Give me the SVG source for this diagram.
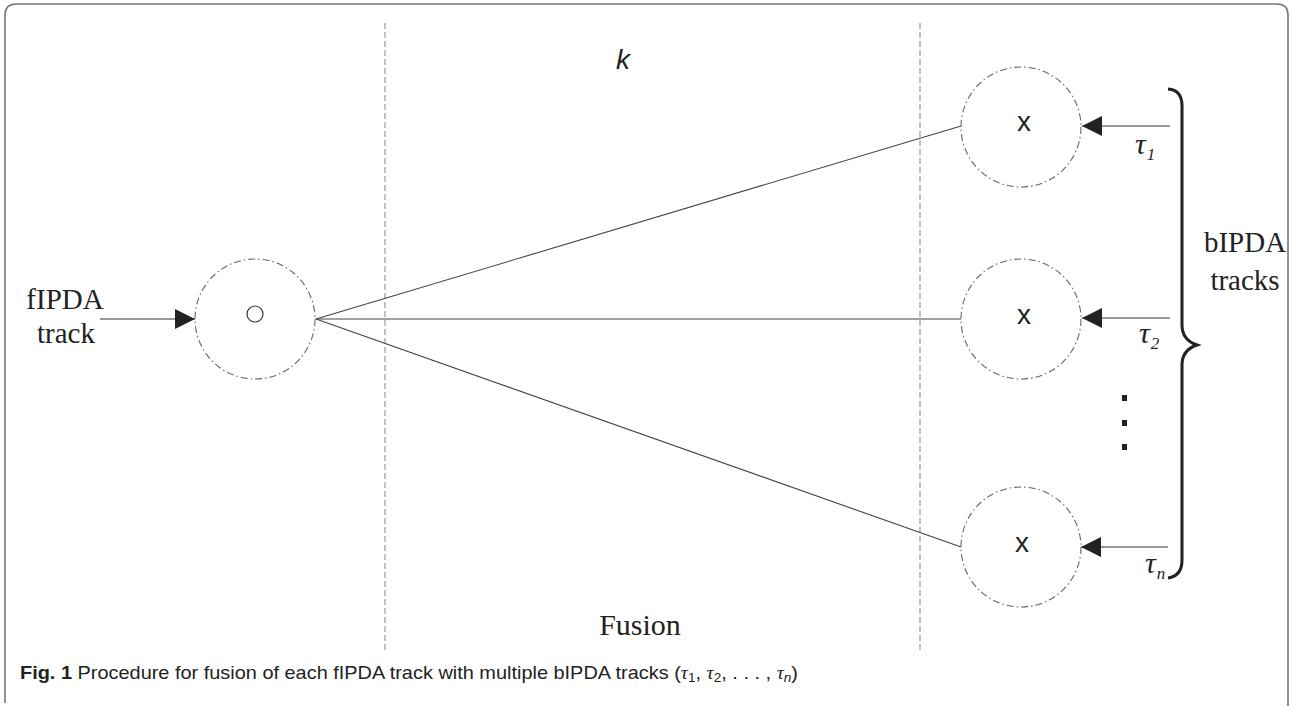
<svg xmlns="http://www.w3.org/2000/svg" width="1291" height="706" viewBox="0 0 1291 706">
<style>
.frame{fill:none;stroke:#777;stroke-width:1.6}
.sep{stroke:#999;stroke-width:1.2;stroke-dasharray:6 3;fill:none}
.node{fill:none;stroke:#666;stroke-width:1.1;stroke-dasharray:7 3 1.5 3}
.edge{stroke:#444;stroke-width:1.1;fill:none}
.arr{stroke:#333;stroke-width:1.2;fill:none;marker-end:url(#ah)}
.serif{font-family:"Liberation Serif","Times New Roman",serif;fill:#222}
.sans{font-family:"Liberation Sans",Arial,sans-serif;fill:#222}
</style>
<defs>
<marker id="ah" viewBox="0 0 20 20" refX="20" refY="10" markerWidth="20" markerHeight="20" markerUnits="userSpaceOnUse" orient="auto">
<path d="M0,0 L20,10 L0,20 Z" fill="#222"/>
</marker>
</defs>
<rect width="1291" height="706" fill="#fff"/>
<path class="frame" d="M5,703 L5,15 Q5,4 16,4 L1277,4 Q1288,4 1288,15 L1288,706"/>
<g id="separators">
<line class="sep" x1="385" y1="23" x2="385" y2="652"/>
<line class="sep" x1="920" y1="23" x2="920" y2="652"/>
</g>
<text class="sans" x="616" y="69" font-size="28" font-style="italic">k</text>
<text class="serif" x="640" y="635" font-size="30" text-anchor="middle">Fusion</text>
<g id="connectors">
<line class="edge" x1="316" y1="319" x2="961" y2="126"/>
<line class="edge" x1="316" y1="319" x2="961" y2="319"/>
<line class="edge" x1="316" y1="319" x2="961" y2="547"/>
<line class="arr" x1="100" y1="319" x2="195" y2="319"/>
<line class="arr" x1="1170" y1="126" x2="1082" y2="126"/>
<line class="arr" x1="1170" y1="318" x2="1082" y2="318"/>
<line class="arr" x1="1168" y1="547" x2="1081" y2="547"/>
</g>
<g id="node-f">
<circle class="node" cx="255" cy="319" r="60"/>
<circle cx="255" cy="314" r="8" fill="none" stroke="#333" stroke-width="1.2"/>
</g>
<g id="node-b1">
<circle class="node" cx="1021" cy="127" r="60"/>
<text class="sans" x="1024" y="131" font-size="28" text-anchor="middle">x</text>
</g>
<g id="node-b2">
<circle class="node" cx="1021" cy="319" r="60"/>
<text class="sans" x="1024" y="324" font-size="28" text-anchor="middle">x</text>
</g>
<g id="node-bn">
<circle class="node" cx="1021" cy="547" r="60"/>
<text class="sans" x="1022" y="552" font-size="28" text-anchor="middle">x</text>
</g>
<g id="label-f">
<text class="serif" x="65" y="309" font-size="29" text-anchor="middle">fIPDA</text>
<text class="serif" x="66" y="343" font-size="29" text-anchor="middle">track</text>
</g>
<g id="labels-tau" class="serif">
<text x="1135" y="154" font-size="30" font-style="italic">τ<tspan font-size="17" dx="1" dy="6">1</tspan></text>
<text x="1139" y="343" font-size="30" font-style="italic">τ<tspan font-size="17" dx="1" dy="6">2</tspan></text>
<text x="1145" y="573" font-size="30" font-style="italic">τ<tspan font-size="17" dx="1" dy="6">n</tspan></text>
</g>
<g id="dots" fill="#222">
<rect x="1122" y="395" width="5" height="6"/>
<rect x="1122" y="420" width="5" height="6"/>
<rect x="1122" y="444" width="5" height="6"/>
</g>
<g id="brace">
<path d="M1168,89 Q1182,90 1182,106 L1182,325 Q1182,340 1197,345 Q1182,350 1182,365 L1182,560 Q1182,576 1168,578" fill="none" stroke="#222" stroke-width="3"/>
<text class="serif" x="1245" y="252" font-size="29" text-anchor="middle">bIPDA</text>
<text class="serif" x="1245" y="290" font-size="29" text-anchor="middle">tracks</text>
</g>
<text class="sans" x="20" y="679" font-size="19" textLength="778" lengthAdjust="spacingAndGlyphs"><tspan font-weight="bold">Fig. 1</tspan> Procedure for fusion of each fIPDA track with multiple bIPDA tracks (<tspan font-family="Liberation Serif,serif" font-style="italic">τ</tspan><tspan font-size="13" dy="3">1</tspan><tspan dy="-3">, </tspan><tspan font-family="Liberation Serif,serif" font-style="italic">τ</tspan><tspan font-size="13" dy="3">2</tspan><tspan dy="-3">, . . . , </tspan><tspan font-family="Liberation Serif,serif" font-style="italic">τ</tspan><tspan font-size="13" dy="3" font-style="italic">n</tspan><tspan dy="-3">)</tspan></text>
</svg>
